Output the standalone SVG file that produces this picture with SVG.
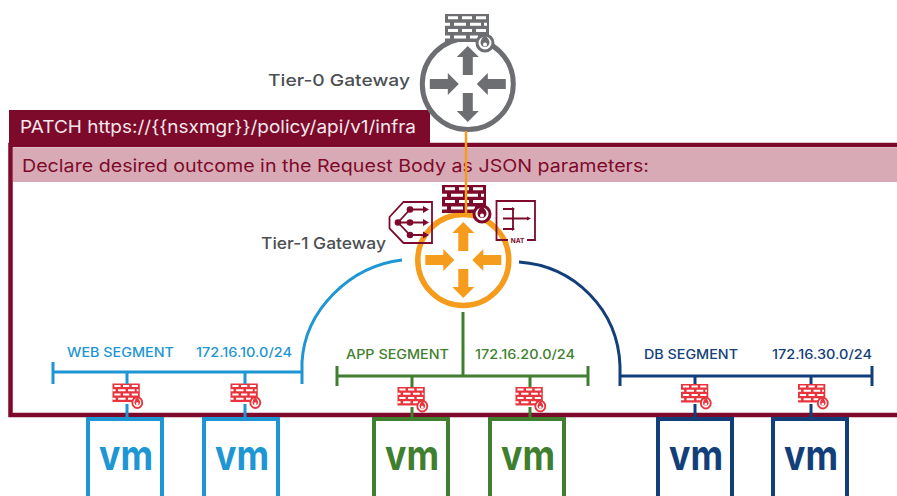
<svg xmlns="http://www.w3.org/2000/svg" width="897" height="496" viewBox="0 0 897 496">
<style>
text{font-family:"Inter","Noto Sans","Liberation Sans",sans-serif}
.lbl{font-size:16.5px;font-weight:500;fill:#4d4f53}
.seg{font-size:12.5px;font-weight:500}
.vm{font-family:"Inter","Liberation Sans",sans-serif;font-size:42px;font-weight:700}
.box{fill:#fff;stroke-width:4}
.ln{fill:none;stroke-width:3}
.icon{fill:none;stroke:#7d0a2a;stroke-width:1.8}
.blue{stroke:#1d96d3}
.green{stroke:#3f7f2f}
.navy{stroke:#123f7a}
.tblue{fill:#1d96d3}
.tgreen{fill:#3f7f2f}
.tnavy{fill:#123f7a}
</style>
<defs>
<g id="arrows">
<path d="M0-38 11-27H5V-9H-5V-27H-11Z"/>
<path d="M0 38 11 27H5V9H-5V27H-11Z"/>
<path d="M-9 0-20-11V-5H-38V5H-20V11Z"/>
<path d="M9 0 20-11V-5H38V5H20V11Z"/>
</g>
<g id="fw">
<rect x="0" y="0" width="44" height="28" fill="currentColor"/>
<path fill="#fff" d="M3 2.300h10v3H3zM17 2.300h10v3H17zM31 2.300h10v3H31zM0 8.700h5v3H0zM9 8.700h12v3H9zM25 8.700h11v3H25zM39 8.700h3v3h-3zM3 15.100h10v3H3zM17 15.100h10v3H17zM31 15.100h10v3H31zM0 21.500h5v3H0zM9 21.500h12v3H9zM25 21.500h8v3h-8z"/>
<circle cx="40" cy="29" r="8" fill="#fff" stroke="currentColor" stroke-width="3"/>
<path fill="currentColor" d="M39.500 19c.5 3 5 5.500 5 9.500a4.500 4.500 0 0 1-9 0c0-2 1.500-3 1.500-5 1 .5 2.500-1.500 2.500-4.500Z"/>
<circle cx="40" cy="30.500" r="2" fill="#fff"/>
</g>
</defs>

<rect x="0" y="0" width="897" height="496" fill="#fff"/>

<g id="api-frame">
<rect x="10.500" y="145" width="900" height="270" fill="none" stroke="#7d0a2a" stroke-width="4.500"/>
<rect x="13" y="148" width="884" height="34" fill="#d8aab6"/>
<rect x="9" y="110" width="421" height="36" fill="#7d0a2a"/>
<text x="20" y="133" font-size="17.500" fill="#f5e9ec" textLength="396" lengthAdjust="spacingAndGlyphs">PATCH https://{{nsxmgr}}/policy/api/v1/infra</text>
<text x="22" y="172" font-size="17.500" fill="#7d0a2a" textLength="627" lengthAdjust="spacingAndGlyphs">Declare desired outcome in the Request Body as JSON parameters:</text>
</g>

<g id="tier0-gateway">
<text class="lbl" x="268" y="86" textLength="142" lengthAdjust="spacingAndGlyphs">Tier-0 Gateway</text>
<circle cx="467.800" cy="84" r="45.500" fill="#fff" stroke="#6d6e71" stroke-width="5"/>
<use href="#arrows" x="467.800" y="84" fill="#6d6e71"/>
<use href="#fw" x="445" y="14" color="#6d6e71"/>
</g>

<g id="tier1-gateway">
<text class="lbl" x="261" y="249" textLength="125" lengthAdjust="spacingAndGlyphs">Tier-1 Gateway</text>
<circle cx="463.300" cy="260" r="45.500" fill="#fff" stroke="#f59c1d" stroke-width="5.500"/>
<use href="#arrows" x="463.300" y="260" fill="#f59c1d"/>
<use href="#fw" x="442" y="185" color="#7d0a2a"/>
</g>

<g id="load-balancer">
<path class="icon" d="M389.500 217 403.500 202H432V243H403.500L389.500 228.500Z"/>
<g fill="#7d0a2a">
<circle cx="398" cy="222.500" r="3.300"/><circle cx="410" cy="209.500" r="3.300"/><circle cx="410" cy="222.500" r="3.300"/><circle cx="410" cy="235" r="3.300"/>
</g>
<path class="icon" d="M398 222.500 410 209.500H424M398 222.500H424M398 222.500 410 235H424"/>
<path fill="#7d0a2a" d="M423 206 429 209.500 423 213ZM423 219 429 222.500 423 226ZM423 231.500 429 235 423 238.500Z"/>
</g>

<g id="nat">
<path class="icon" d="M508 240H496.500V201H535V240H527"/>
<path class="icon" stroke-width="1.400" d="M503 209H513V229H503M503 218.500H528"/>
<path fill="#7d0a2a" d="M512 207 515 209 512 211ZM512 216.500 515 218.500 512 220.500ZM512 227 515 229 512 231ZM527 216.500 531 218.500 527 220.500Z"/>
<text x="517.500" y="242.500" font-size="6.500" font-weight="700" fill="#7d0a2a" text-anchor="middle">NAT</text>
</g>

<g id="web-segment">
<text class="seg tblue" x="67" y="357" textLength="107" lengthAdjust="spacingAndGlyphs">WEB SEGMENT</text>
<text class="seg tblue" x="196" y="357" textLength="96" lengthAdjust="spacingAndGlyphs">172.16.10.0/24</text>
<path class="ln blue" d="M53 372H302M53 362V384M302 362V384"/>
</g>
<g id="app-segment">
<text class="seg tgreen" x="346" y="359" textLength="103" lengthAdjust="spacingAndGlyphs">APP SEGMENT</text>
<text class="seg tgreen" x="475" y="359" textLength="100" lengthAdjust="spacingAndGlyphs">172.16.20.0/24</text>
<path class="ln green" d="M337 376H588M337 366V386M588 366V386"/>
</g>
<g id="db-segment">
<text class="seg tnavy" x="644" y="359" textLength="94" lengthAdjust="spacingAndGlyphs">DB SEGMENT</text>
<text class="seg tnavy" x="772" y="359" textLength="100" lengthAdjust="spacingAndGlyphs">172.16.30.0/24</text>
<path class="ln navy" d="M620 376H872M620 366V386M872 366V386"/>
</g>

<g id="fw-web-1"><use href="#fw" transform="translate(112.500 383.500) scale(.62 .66)" color="#e8343c"/></g>
<g id="fw-web-2"><use href="#fw" transform="translate(230.500 383.500) scale(.62 .66)" color="#e8343c"/></g>
<g id="fw-app-1"><use href="#fw" transform="translate(397.500 387) scale(.62 .66)" color="#e8343c"/></g>
<g id="fw-app-2"><use href="#fw" transform="translate(515.500 387) scale(.62 .66)" color="#e8343c"/></g>
<g id="fw-db-1"><use href="#fw" transform="translate(681 384) scale(.62 .66)" color="#e8343c"/></g>
<g id="fw-db-2"><use href="#fw" transform="translate(798 384) scale(.62 .66)" color="#e8343c"/></g>

<g id="vm-web-1"><rect class="box blue" x="88" y="419" width="74" height="90"/><text class="vm tblue" x="99" y="470" textLength="54" lengthAdjust="spacingAndGlyphs">vm</text></g>
<g id="vm-web-2"><rect class="box blue" x="204" y="419" width="74" height="90"/><text class="vm tblue" x="215" y="470" textLength="54" lengthAdjust="spacingAndGlyphs">vm</text></g>
<g id="vm-app-1"><rect class="box green" x="374" y="419" width="74" height="90"/><text class="vm tgreen" x="385" y="470" textLength="54" lengthAdjust="spacingAndGlyphs">vm</text></g>
<g id="vm-app-2"><rect class="box green" x="490" y="419" width="74" height="90"/><text class="vm tgreen" x="501" y="470" textLength="54" lengthAdjust="spacingAndGlyphs">vm</text></g>
<g id="vm-db-1"><rect class="box navy" x="658" y="419" width="74" height="90"/><text class="vm tnavy" x="669" y="470" textLength="54" lengthAdjust="spacingAndGlyphs">vm</text></g>
<g id="vm-db-2"><rect class="box navy" x="773" y="419" width="74" height="90"/><text class="vm tnavy" x="784" y="470" textLength="54" lengthAdjust="spacingAndGlyphs">vm</text></g>

<g id="connectors" fill="none" stroke-width="3">
<path stroke="#f59c1d" stroke-width="2.500" d="M466 131V213"/>
<path stroke="#1d96d3" d="M402 260C350 266 305 310 302 362"/>
<path stroke="#123f7a" d="M519 262C575 266 618 310 620 366"/>
<path stroke="#3f7f2f" d="M463 312V376"/>
<path stroke="#1d96d3" d="M127 372V384M127 404V418M245 372V384M245 404V418"/>
<path stroke="#3f7f2f" d="M412 376V387M412 407V418M530 376V387M530 407V418"/>
<path stroke="#123f7a" d="M695 376V384M695 404V418M811 376V384M811 404V418"/>
</g>
</svg>
